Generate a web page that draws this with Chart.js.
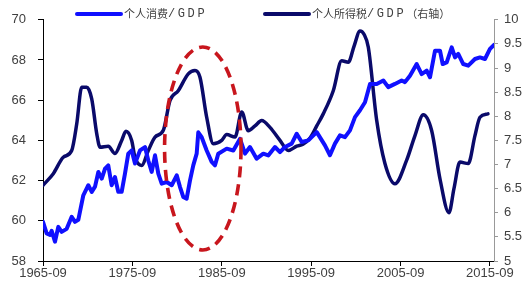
<!DOCTYPE html>
<html>
<head>
<meta charset="utf-8">
<script src="https://cdn.jsdelivr.net/npm/chart.js@4.4.1/dist/chart.umd.min.js"></script>
<style>
html,body{margin:0;padding:0;background:#fff;}
#wrap{width:525px;height:287px;}
</style>
</head>
<body>
<div id="wrap"><canvas id="c" width="525" height="287"></canvas></div>
<script>
// ---- data ----
const seriesNames = ["个人消费/GDP", "个人所得税/GDP（右轴）"];
const xTickYears = [1965.75, 1975.75, 1985.75, 1995.75, 2005.75, 2015.75];
const leftTicks = [58, 60, 62, 64, 66, 68, 70];
const rightTicks = [5, 5.5, 6, 6.5, 7, 7.5, 8, 8.5, 9, 9.5, 10];

const consYears = [1965.75,1966.16,1966.53,1966.72,1967.09,1967.46,1967.84,1968.40,1968.96,1969.33,1969.70,1970.26,1970.82,1971.20,1971.57,1971.94,1972.32,1972.69,1973.05,1973.43,1973.80,1974.17,1974.55,1974.92,1975.29,1975.67,1976.04,1976.60,1977.16,1977.53,1977.91,1978.28,1978.65,1979.03,1979.59,1980.15,1980.71,1981.07,1981.44,1981.82,1982.19,1982.56,1982.94,1983.12,1983.50,1984.06,1984.62,1984.99,1985.36,1986.30,1987.04,1987.79,1988.35,1988.90,1989.65,1990.39,1990.95,1991.70,1992.26,1992.82,1993.57,1994.13,1994.69,1995.43,1996.37,1997.29,1997.85,1998.41,1998.97,1999.53,2000.09,2000.65,2001.21,2001.77,2002.33,2003.08,2003.82,2004.37,2005.12,2005.87,2006.24,2006.80,2007.55,2008.11,2008.67,2009.04,2009.60,2010.16,2010.46,2010.91,2011.47,2011.84,2012.20,2012.76,2013.32,2014.07,2014.63,2015.19,2015.75,2016.20];
const consValues = [59.95,59.37,59.30,59.50,58.96,59.70,59.45,59.60,60.20,59.95,60.05,61.27,61.77,61.44,61.70,62.43,62.10,62.60,62.76,61.77,62.18,61.44,61.44,62.35,63.34,63.50,62.85,63.50,63.67,63.00,62.43,63.26,62.35,61.85,61.93,61.77,62.26,61.69,61.19,61.10,62.00,62.76,63.34,64.40,64.16,63.50,62.93,62.76,63.34,63.59,63.50,64.08,63.34,63.67,63.09,63.34,63.25,63.67,63.42,63.67,63.84,64.33,63.92,64.00,64.41,63.75,63.26,63.84,64.25,64.16,64.50,65.16,65.50,65.90,66.81,66.81,66.98,66.65,66.81,66.98,66.90,67.22,67.80,67.30,67.47,67.14,68.46,68.46,67.80,67.88,68.63,68.13,68.30,67.80,67.72,68.05,68.13,68.05,68.55,68.75];

const taxYears = [1965.75,1966.90,1968.02,1968.96,1969.52,1970.08,1970.64,1971.20,1971.76,1972.13,1973.05,1973.80,1974.55,1975.03,1975.67,1976.04,1976.79,1977.53,1978.28,1979.21,1979.96,1980.88,1982.00,1982.75,1983.31,1984.06,1984.80,1985.74,1986.30,1987.23,1987.98,1988.71,1989.46,1990.21,1991.14,1992.26,1993.19,1994.13,1994.83,1995.62,1996.37,1997.10,1998.22,1999.16,1999.90,2000.54,2001.21,2001.66,2002.14,2003.08,2004.00,2005.12,2006.43,2007.36,2008.29,2009.23,2010.16,2011.16,2011.72,2012.39,2013.32,2014.07,2014.63,2015.52];
const taxValues = [6.57,6.81,7.15,7.29,7.84,8.60,8.60,8.36,7.64,7.36,7.38,7.23,7.50,7.69,7.50,7.15,6.98,7.29,7.57,7.71,8.33,8.53,8.88,8.95,8.81,7.98,7.43,7.50,7.62,7.57,8.09,7.70,7.80,7.91,7.77,7.50,7.29,7.38,7.42,7.55,7.80,8.05,8.53,9.15,9.12,9.45,9.77,9.70,9.43,7.91,7.02,6.60,7.09,7.60,8.03,7.70,6.70,6.00,6.50,7.05,7.02,7.60,7.98,8.05];

// highlighted period (red dashed ellipse), in data units: year span and left-axis span
const highlightYears = [1979.35, 1987.9];
const highlightLeft = [58.55, 68.65];

// ---- styles ----
const BLUE = "#1010ff";
const NAVY = "#0a0a6a";
const RED = "#c8161d";
const TXT = "#404040";

const toPoints = (xs, ys) => xs.map((x, i) => ({x: x, y: ys[i]}));

const ellipsePlugin = {
  id: "highlight",
  afterDatasetsDraw(chart) {
    const {ctx} = chart;
    const sx = chart.scales.x, sy = chart.scales.yL;
    const x0 = sx.getPixelForValue(highlightYears[0]);
    const x1 = sx.getPixelForValue(highlightYears[1]);
    const y0 = sy.getPixelForValue(highlightLeft[1]);
    const y1 = sy.getPixelForValue(highlightLeft[0]);
    ctx.save();
    ctx.beginPath();
    ctx.ellipse((x0 + x1) / 2, (y0 + y1) / 2, (x1 - x0) / 2, (y1 - y0) / 2, 0, 0, Math.PI * 2);
    ctx.setLineDash([11, 7]);
    ctx.lineWidth = 3.6;
    ctx.strokeStyle = RED;
    ctx.stroke();
    ctx.restore();
  }
};

const legendPlugin = {
  id: "customLegend",
  afterDraw(chart) {
    const {ctx} = chart;
    const items = [
      {x1: 77, x2: 121, color: BLUE, parts: [["个人消费", "cjk"], ["/GDP", "lat"]]},
      {x1: 265, x2: 309, color: NAVY, parts: [["个人所得税", "cjk"], ["/GDP", "lat"], ["（右轴）", "cjk"]]}
    ];
    const y = 14;
    ctx.save();
    items.forEach(it => {
      ctx.beginPath();
      ctx.moveTo(it.x1, y);
      ctx.lineTo(it.x2, y);
      ctx.lineWidth = 4;
      ctx.lineCap = "round";
      ctx.strokeStyle = it.color;
      ctx.stroke();
      let x = it.x2 + 3;
      ctx.fillStyle = TXT;
      ctx.textBaseline = "middle";
      it.parts.forEach(([t, kind]) => {
        if (kind === "cjk") {
          ctx.font = "11px 'Noto Sans CJK SC'";
          ctx.letterSpacing = "0px";
        } else {
          ctx.font = "12px 'Liberation Mono'";
          ctx.letterSpacing = "2.6px";
        }
        ctx.fillText(t, x, y);
        x += ctx.measureText(t).width;
      });
      ctx.letterSpacing = "0px";
    });
    ctx.restore();
  }
};

const tickFont = {family: "'Liberation Sans', Arial, sans-serif", size: 13};

new Chart(document.getElementById("c"), {
  type: "line",
  data: {
    datasets: [
      {
        label: seriesNames[0],
        data: toPoints(consYears, consValues),
        yAxisID: "yL",
        borderColor: BLUE,
        borderWidth: 4,
        pointRadius: 0,
        tension: 0,
        borderJoinStyle: "round",
        borderCapStyle: "round",
        fill: false
      },
      {
        label: seriesNames[1],
        data: toPoints(taxYears, taxValues),
        yAxisID: "yR",
        borderColor: NAVY,
        borderWidth: 3.5,
        pointRadius: 0,
        cubicInterpolationMode: "monotone",
        borderJoinStyle: "round",
        borderCapStyle: "round",
        fill: false
      }
    ]
  },
  options: {
    responsive: false,
    animation: false,
    devicePixelRatio: 1,
    layout: {padding: {top: 19, left: 0, right: 0, bottom: 0}},
    plugins: {legend: {display: false}, tooltip: {enabled: false}},
    scales: {
      x: {
        type: "linear",
        min: 1965.75,
        max: 2016.2,
        afterBuildTicks: s => { s.ticks = xTickYears.map(v => ({value: v})); },
        afterFit: s => { s.height = 26; },
        grid: {drawOnChartArea: false, tickLength: 5, tickColor: "#000", tickWidth: 1},
        border: {color: "#000", width: 1},
        ticks: {
          font: tickFont, color: TXT, padding: 0, maxRotation: 0, autoSkip: false,
          callback: v => Math.round(v - 0.75) + "-09"
        }
      },
      yL: {
        position: "left",
        min: 58, max: 70,
        afterBuildTicks: s => { s.ticks = leftTicks.map(v => ({value: v})); },
        afterFit: s => { s.width = 43; },
        grid: {drawOnChartArea: false, tickLength: 5, tickColor: "#000"},
        border: {color: "#000", width: 1},
        ticks: {font: tickFont, color: TXT, padding: 12, callback: v => String(v)}
      },
      yR: {
        position: "right",
        min: 5, max: 10,
        afterBuildTicks: s => { s.ticks = rightTicks.map(v => ({value: v})); },
        afterFit: s => { s.width = 31; },
        grid: {drawOnChartArea: false, tickLength: 4, tickColor: "#999"},
        border: {color: "#999", width: 1},
        ticks: {font: tickFont, color: TXT, padding: 6, callback: v => String(v)}
      }
    }
  },
  plugins: [ellipsePlugin, legendPlugin]
});
</script>
</body>
</html>
